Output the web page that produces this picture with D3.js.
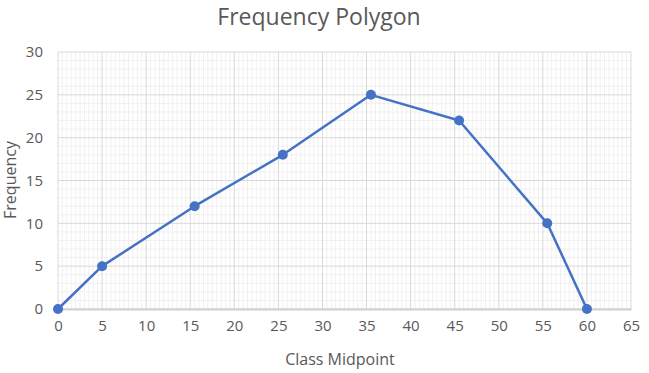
<!DOCTYPE html>
<html>
<head>
<meta charset="utf-8">
<script src="https://cdn.jsdelivr.net/npm/d3@7"></script>
<style>
  body { margin: 0; background: #fff; }
  text { font-family: "Open Sans", "Noto Sans", sans-serif; fill: #595959; }
</style>
</head>
<body>
<div id="chart"></div>
<script>
// data
var midpoints = [0, 5, 15.5, 25.5, 35.5, 45.5, 55.5, 60];
var frequencies = [0, 5, 12, 18, 25, 22, 10, 0];
var xTicks = [0, 5, 10, 15, 20, 25, 30, 35, 40, 45, 50, 55, 60, 65];
var yTicks = [0, 5, 10, 15, 20, 25, 30];

var svgWidth = 649;
var svgHeight = 373;
var margin = { top: 52, right: 18, bottom: 64, left: 58 };
var width = svgWidth - margin.left - margin.right;
var height = svgHeight - margin.top - margin.bottom;

var svg = d3.select("#chart")
  .append("svg")
  .attr("width", svgWidth)
  .attr("height", svgHeight);

var chartGroup = svg.append("g")
  .attr("transform", `translate(${margin.left}, ${margin.top})`);

var x = d3.scaleLinear().domain([0, 65]).range([0, width]);
var y = d3.scaleLinear().domain([0, 30]).range([height, 0]);

// minor grid
chartGroup.append("g")
  .selectAll("line")
  .data(d3.range(0.5, 65, 0.5).filter(d => d % 5 !== 0))
  .enter().append("line")
  .attr("x1", d => x(d)).attr("x2", d => x(d))
  .attr("y1", 0).attr("y2", height)
  .attr("stroke", "#f0f0f0").attr("stroke-width", 1);
chartGroup.append("g")
  .selectAll("line")
  .data(d3.range(1, 30, 1).filter(d => d % 5 !== 0))
  .enter().append("line")
  .attr("x1", 0).attr("x2", width)
  .attr("y1", d => y(d)).attr("y2", d => y(d))
  .attr("stroke", "#f0f0f0").attr("stroke-width", 1);

// major grid
chartGroup.append("g")
  .selectAll("line")
  .data(xTicks)
  .enter().append("line")
  .attr("x1", d => x(d)).attr("x2", d => x(d))
  .attr("y1", 0).attr("y2", height)
  .attr("stroke", "#d9d9d9").attr("stroke-width", 1);
chartGroup.append("g")
  .selectAll("line")
  .data(yTicks)
  .enter().append("line")
  .attr("x1", 0).attr("x2", width)
  .attr("y1", d => y(d)).attr("y2", d => y(d))
  .attr("stroke", "#d9d9d9").attr("stroke-width", 1);

// axes
var bottomAxis = d3.axisBottom(x).tickValues(xTicks).tickSize(0).tickPadding(11);
var leftAxis = d3.axisLeft(y).tickValues(yTicks).tickSize(0).tickPadding(15);

var xAxis = chartGroup.append("g")
  .attr("transform", `translate(0, ${height})`)
  .call(bottomAxis);
xAxis.select(".domain").attr("stroke", "#d0d0d0").attr("stroke-width", 2);
xAxis.selectAll("text").style("font-size", "15px").attr("fill", "#595959");

var yAxis = chartGroup.append("g").call(leftAxis);
yAxis.select(".domain").remove();
yAxis.selectAll("text").style("font-size", "15px").attr("fill", "#595959");

// polygon line + markers
var points = midpoints.map((m, i) => [m, frequencies[i]]);
var line = d3.line().x(d => x(d[0])).y(d => y(d[1]));

chartGroup.append("path")
  .datum(points)
  .attr("d", line)
  .attr("fill", "none")
  .attr("stroke", "#4472c4")
  .attr("stroke-width", 2.5)
  .attr("stroke-linejoin", "round");

chartGroup.selectAll("circle")
  .data(points)
  .enter().append("circle")
  .attr("cx", d => x(d[0]))
  .attr("cy", d => y(d[1]))
  .attr("r", 5)
  .attr("fill", "#4472c4");

// titles
svg.append("text")
  .attr("x", 319).attr("y", 25)
  .attr("text-anchor", "middle")
  .style("font-size", "23px")
  .text("Frequency Polygon");

svg.append("text")
  .attr("x", 340).attr("y", 365)
  .attr("text-anchor", "middle")
  .style("font-size", "16px")
  .text("Class Midpoint");

svg.append("text")
  .attr("transform", "rotate(-90)")
  .attr("x", -180).attr("y", 16)
  .attr("text-anchor", "middle")
  .style("font-size", "16px")
  .text("Frequency");
</script>
</body>
</html>
